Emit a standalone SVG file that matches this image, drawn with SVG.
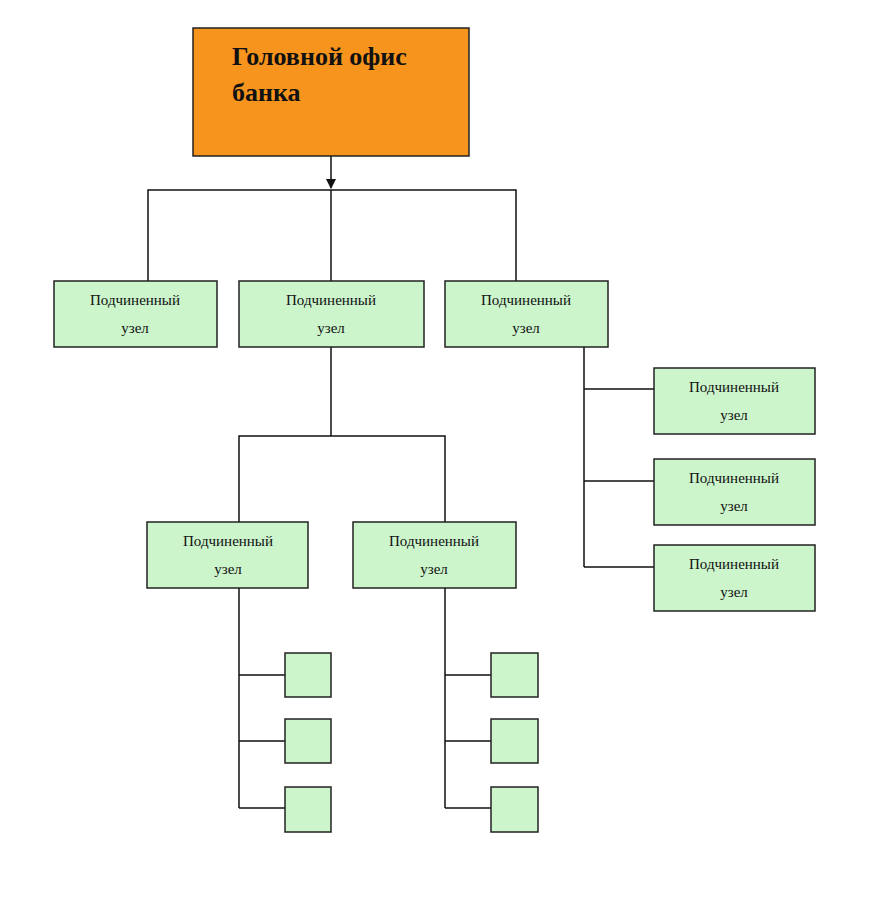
<svg xmlns="http://www.w3.org/2000/svg" width="880" height="908" viewBox="0 0 880 908">
<style>
.n{fill:#ccf5cc;stroke:#222;stroke-width:1.5}
.t{font-family:"Liberation Serif",serif;font-size:15px;fill:#111;text-anchor:middle}
.c{stroke:#111;stroke-width:1.5;fill:none}
</style>
<defs><marker id="a" markerWidth="10" markerHeight="10" refX="9" refY="5" orient="auto" markerUnits="userSpaceOnUse"><path d="M0,0L10,5L0,10z" fill="#111"/></marker></defs>
<rect width="880" height="908" fill="#fff"/>
<g id="connectors">
<path class="c" d="M331,156V188" marker-end="url(#a)"/>
<path class="c" d="M148,281V190H516V281M331,190V281"/>
<path class="c" d="M331,347V436M239,522V436H445V522"/>
<path class="c" d="M239,588V808M239,675H285M239,741H285M239,808H285"/>
<path class="c" d="M445,588V808M445,675H491M445,741H491M445,808H491"/>
<path class="c" d="M584,347V567M584,389H654M584,481H654M584,567H654"/>
</g>
<g id="head"><rect x="193" y="28" width="276" height="128" fill="#f7941d" stroke="#222" stroke-width="1.5"/>
<text x="232" y="65" style="font-family:'Liberation Serif',serif;font-size:26px;font-weight:bold;fill:#111">Головной офис</text>
<text x="232" y="101" style="font-family:'Liberation Serif',serif;font-size:26px;font-weight:bold;fill:#111">банка</text></g>
<g id="n1"><rect class="n" x="54" y="281" width="163" height="66"/><text class="t" x="135" y="305">Подчиненный</text><text class="t" x="135" y="333">узел</text></g>
<g id="n2"><rect class="n" x="239" y="281" width="185" height="66"/><text class="t" x="331" y="305">Подчиненный</text><text class="t" x="331" y="333">узел</text></g>
<g id="n3"><rect class="n" x="445" y="281" width="163" height="66"/><text class="t" x="526" y="305">Подчиненный</text><text class="t" x="526" y="333">узел</text></g>
<g id="n4"><rect class="n" x="147" y="522" width="161" height="66"/><text class="t" x="228" y="546">Подчиненный</text><text class="t" x="228" y="574">узел</text></g>
<g id="n5"><rect class="n" x="353" y="522" width="163" height="66"/><text class="t" x="434" y="546">Подчиненный</text><text class="t" x="434" y="574">узел</text></g>
<g id="n6"><rect class="n" x="654" y="368" width="161" height="66"/><text class="t" x="734" y="392">Подчиненный</text><text class="t" x="734" y="420">узел</text></g>
<g id="n7"><rect class="n" x="654" y="459" width="161" height="66"/><text class="t" x="734" y="483">Подчиненный</text><text class="t" x="734" y="511">узел</text></g>
<g id="n8"><rect class="n" x="654" y="545" width="161" height="66"/><text class="t" x="734" y="569">Подчиненный</text><text class="t" x="734" y="597">узел</text></g>
<g id="s1"><rect class="n" x="285" y="653" width="46" height="44"/></g>
<g id="s2"><rect class="n" x="285" y="719" width="46" height="44"/></g>
<g id="s3"><rect class="n" x="285" y="787" width="46" height="45"/></g>
<g id="s4"><rect class="n" x="491" y="653" width="47" height="44"/></g>
<g id="s5"><rect class="n" x="491" y="719" width="47" height="44"/></g>
<g id="s6"><rect class="n" x="491" y="787" width="47" height="45"/></g>
</svg>
